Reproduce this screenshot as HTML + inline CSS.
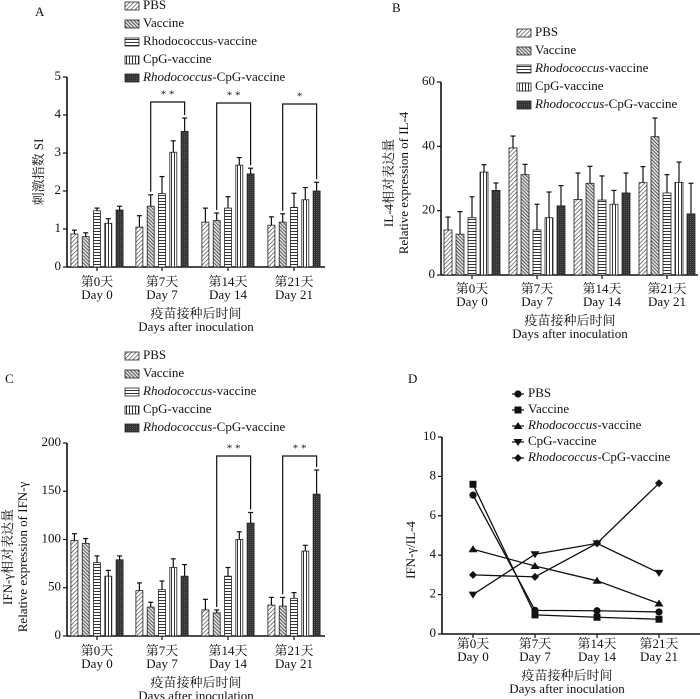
<!DOCTYPE html>
<html><head><meta charset="utf-8"><style>
html,body{margin:0;padding:0;background:#fff}
svg{display:block;font-family:"Liberation Serif","Noto Serif CJK SC","Noto Sans CJK SC",serif}
</style></head><body>
<svg id="fig" width="700" height="699" viewBox="0 0 700 699" xmlns="http://www.w3.org/2000/svg">
<defs>
<pattern id="p0" patternUnits="userSpaceOnUse" width="3" height="3" patternTransform="rotate(45)"><rect width="3" height="3" fill="#fff"/><line x1="0" y1="0" x2="0" y2="3" stroke="#333" stroke-width="1.2"/></pattern>
<pattern id="p1" patternUnits="userSpaceOnUse" width="2.5" height="2.5" patternTransform="rotate(-45)"><rect width="2.5" height="2.5" fill="#ddd"/><line x1="0" y1="0" x2="0" y2="2.5" stroke="#222" stroke-width="1.3"/></pattern>
<pattern id="p2" patternUnits="userSpaceOnUse" width="3" height="3"><rect width="3" height="3" fill="#fff"/><line x1="0" y1="0.5" x2="3" y2="0.5" stroke="#333" stroke-width="1"/></pattern>
<pattern id="p3" patternUnits="userSpaceOnUse" width="3" height="3"><rect width="3" height="3" fill="#fff"/><line x1="0.5" y1="0" x2="0.5" y2="3" stroke="#333" stroke-width="1"/></pattern>
<pattern id="p4" patternUnits="userSpaceOnUse" width="2" height="2"><rect width="2" height="2" fill="#333"/><rect x="0" y="0" width="0.7" height="0.7" fill="#777"/></pattern>
</defs>
</svg>
<script>
const groups = ["Day 0","Day 7","Day 14","Day 21"];
const groupsCn = ["第0天","第7天","第14天","第21天"];
const seriesNames = ["PBS","Vaccine","Rhodococcus-vaccine","CpG-vaccine","Rhodococcus-CpG-vaccine"];
// Panel A
const aTicks = [0,1,2,3,4,5];
const aPBS = [0.87,1.05,1.18,1.1];
const aVac = [0.8,1.6,1.22,1.18];
const aRho = [1.48,1.93,1.55,1.57];
const aCpG = [1.15,3.02,2.68,1.77];
const aRC = [1.5,3.57,2.45,2.0];
const aErrPBS = [0.1,0.3,0.37,0.22];
const aErrVac = [0.1,0.3,0.2,0.22];
const aErrRho = [0.07,0.45,0.3,0.37];
const aErrCpG = [0.12,0.3,0.2,0.32];
const aErrRC = [0.1,0.35,0.15,0.23];
// Panel B
const bTicks = [0,20,40,60];
const bPBS = [14,39.5,23.5,28.7];
const bVac = [12.7,31.2,28.5,43];
const bRho = [17.8,14,23.3,25.5];
const bCpG = [32,17.8,22,28.8];
const bRC = [26.3,21.5,25.5,19];
const bErrPBS = [4,3.7,8.2,5];
const bErrVac = [7,3.2,5.3,5.8];
const bErrRho = [6.5,8,7.5,5.7];
const bErrCpG = [2.3,8,4.3,6.3];
const bErrRC = [2.3,6.3,6.2,9.5];
// Panel C
const cTicks = [0,50,100,150,200];
const cPBS = [99,47,27,32];
const cVac = [96,30,24,31];
const cRho = [76,48,62,39];
const cCpG = [62,71,100,88];
const cRC = [79,62,117,147];
const cErrPBS = [7,8,11,8];
const cErrVac = [5,5,3,9];
const cErrRho = [7,9,9,6];
const cErrCpG = [6,9,8,6];
const cErrRC = [4,12,11,25];
// Panel D
const dTicks = [0,2,4,6,8,10];
const dPBS = [7.05,1.2,1.18,1.12];
const dVac = [7.6,0.97,0.85,0.75];
const dRho = [4.3,3.45,2.7,1.55];
const dCpG = [2.0,4.05,4.6,3.1];
const dRC = [3.0,2.9,4.6,7.65];

const svg = document.getElementById('fig');
const NS = 'http://www.w3.org/2000/svg';
function mk(tag, attrs, parent, text){
  const e = document.createElementNS(NS, tag);
  for (const k in attrs) e.setAttribute(k, attrs[k]);
  if (text !== undefined) e.textContent = text;
  (parent||svg).appendChild(e); return e;
}
function txt(x,y,s,size,anchor,parent,name,italicPrefix){
  const t = mk('text',{x:x,y:y,'font-size':size,'text-anchor':anchor||'start','dominant-baseline':'middle',fill:'#111'},parent);
  
  
  if (italicPrefix){
    mk('tspan',{'font-style':'italic'},t,'Rhodococcus');
    mk('tspan',{},t,s.replace('Rhodococcus',''));
  } else t.textContent = s;
  return t;
}

function axes(p){
  const g = mk('g',{});
  
  
  const y = v => p.y0 - (v - 0) / p.ymax * (p.y0 - p.y1);
  mk('line',{x1:p.x0,y1:p.y1,x2:p.x0,y2:p.y0,stroke:'#111','stroke-width':1.6},g);
  mk('line',{x1:p.x0,y1:p.y0,x2:p.xEnd,y2:p.y0,stroke:'#111','stroke-width':1.6},g);
  p.ticks.forEach(t=>{
    mk('line',{x1:p.x0-4,y1:y(t),x2:p.x0,y2:y(t),stroke:'#111','stroke-width':1.2},g);
    txt(p.x0-6,y(t),String(t),13,'end',g,p.id+'-y-tick-label');
  });
  p.gx.forEach((gx,i)=>{
    mk('line',{x1:gx,y1:p.y0,x2:gx,y2:p.y0+4,stroke:'#111','stroke-width':1.2},g);
    txt(gx,p.lab1,groupsCn[i],13,'middle',g,p.id+'-x-tick-cn');
    txt(gx,p.lab1+13,groups[i],13,'middle',g,p.id+'-x-tick-label');
  });
  txt(p.titleX,p.lab1+32,'疫苗接种后时间',13,'middle',g,p.id+'-x-axis-title-cn');
  txt(p.titleX,p.lab1+45,'Days after inoculation',13,'middle',g,p.id+'-x-axis-title');
  return y;
}

function barPanel(p){
  const y = axes(p);
  const g = mk('g',{});
  
  
  p.series.forEach((vals,si)=>{
    vals.forEach((v,gi)=>{
      const cx = p.gx[gi] + (si-2)*p.sp;
      const r = mk('rect',{x:cx-p.bw/2,y:y(v),width:p.bw,height:p.y0-y(v),fill:'url(#p'+si+')',stroke:'#222','stroke-width':0.8},g);
      
      
      const e = p.errs[si][gi];
      mk('line',{x1:cx,y1:y(v),x2:cx,y2:y(v+e),stroke:'#111','stroke-width':1.2},g);
      mk('line',{x1:cx-2.5,y1:y(v+e),x2:cx+2.5,y2:y(v+e),stroke:'#111','stroke-width':1.2},g);
    });
  });
  (p.brackets||[]).forEach(b=>{
    const gi=b[0], a=b[1], c=b[2];
    const xa = p.gx[gi]+(a-2)*p.sp, xc = p.gx[gi]+(c-2)*p.sp;
    const ya = y(p.series[a][gi]+p.errs[a][gi])-3, yc = y(p.series[c][gi]+p.errs[c][gi])-3;
    const bl = mk('polyline',{points:`${xa},${ya} ${xa},${b[3]} ${xc},${b[3]} ${xc},${yc}`,fill:'none',stroke:'#111','stroke-width':1.2},g);
    
    
    txt((xa+xc)/2,b[3]-7,b[4],11,'middle',g,p.id+'-significance-stars');
  });
  // legend
  const lg = mk('g',{});
  
  
  seriesNames.forEach((n,i)=>{
    const ly = p.legY + i*18;
    mk('rect',{x:p.legX,y:ly-4,width:14,height:8,fill:'url(#p'+i+')',stroke:'#222','stroke-width':0.8},lg);
    txt(p.legX+18,ly,n,13,'start',lg,p.id+'-legend-entry', p.italic && n.startsWith('Rhodococcus') || (n==='Rhodococcus-CpG-vaccine'));
  });
}

// Panel A
txt(35,13,'A',13,'start',svg,'panel-a-label');
barPanel({id:'a',x0:67,xEnd:325,y0:267,y1:77,ymax:5,ticks:aTicks,gx:[97,162,228,294],sp:11.3,bw:7,
  series:[aPBS,aVac,aRho,aCpG,aRC],errs:[aErrPBS,aErrVac,aErrRho,aErrCpG,aErrRC],
  lab1:283,titleX:196,legX:125,legY:6,italic:false,
  brackets:[[1,1,4,102,'* *'],[2,1,4,103,'* *'],[3,1,4,104,'*']]});
const ya = txt(40,172,'刺激指数 SI',13,'middle',svg,'y-axis-title-a');
ya.setAttribute('transform','rotate(-90 40 172)');

// Panel B
txt(392,9,'B',13,'start',svg,'panel-b-label');
barPanel({id:'b',x0:441,xEnd:698,y0:275,y1:82,ymax:60,ticks:bTicks,gx:[472,537,602,667],sp:12,bw:8,
  series:[bPBS,bVac,bRho,bCpG,bRC],errs:[bErrPBS,bErrVac,bErrRho,bErrCpG,bErrRC],
  lab1:290,titleX:570,legX:517,legY:33,italic:true});
const yb1 = txt(390,183,'IL-4相对表达量',13,'middle',svg,'y-axis-title-b-cn'); yb1.setAttribute('transform','rotate(-90 390 183)');
const yb2 = txt(405,183,'Relative expression of IL-4',13,'middle',svg,'y-axis-title-b'); yb2.setAttribute('transform','rotate(-90 405 183)');

// Panel C
txt(5,380,'C',13,'start',svg,'panel-c-label');
barPanel({id:'c',x0:67,xEnd:325,y0:636,y1:443,ymax:200,ticks:cTicks,gx:[97,162,228,294],sp:11.3,bw:7,
  series:[cPBS,cVac,cRho,cCpG,cRC],errs:[cErrPBS,cErrVac,cErrRho,cErrCpG,cErrRC],
  lab1:652,titleX:196,legX:125,legY:356,italic:true,
  brackets:[[2,1,4,456,'* *'],[3,1,4,456,'* *']]});
const yc1 = txt(9,557,'IFN-γ相对表达量',13,'middle',svg,'y-axis-title-c-cn'); yc1.setAttribute('transform','rotate(-90 9 557)');
const yc2 = txt(24,557,'Relative expression of IFN-γ',13,'middle',svg,'y-axis-title-c'); yc2.setAttribute('transform','rotate(-90 24 557)');

// Panel D
txt(408,380,'D',13,'start',svg,'panel-d-label');
(function(){
  const p={id:'d',x0:442,xEnd:700,y0:634,y1:437,ymax:10,ticks:dTicks,gx:[473,535,597,659],lab1:645,titleX:567};
  const y = axes(p);
  const series=[dPBS,dVac,dRho,dCpG,dRC];
  function marker(t,x,yy,g){
    let m;
    if(t===0) m=mk('circle',{cx:x,cy:yy,r:3.6,fill:'#111'},g);
    else if(t===1) m=mk('rect',{x:x-3.5,y:yy-3.5,width:7,height:7,fill:'#111'},g);
    else if(t===2) m=mk('polygon',{points:`${x},${yy-4} ${x+4.5},${yy+3} ${x-4.5},${yy+3}`,fill:'#111'},g);
    else if(t===3) m=mk('polygon',{points:`${x},${yy+4} ${x+4.5},${yy-3} ${x-4.5},${yy-3}`,fill:'#111'},g);
    else m=mk('polygon',{points:`${x},${yy-4} ${x+4},${yy} ${x},${yy+4} ${x-4},${yy}`,fill:'#111'},g);
    
    
  }
  series.forEach((vals,si)=>{
    const g=mk('g',{});
    
    
    mk('polyline',{points:vals.map((v,i)=>p.gx[i]+','+y(v)).join(' '),fill:'none',stroke:'#111','stroke-width':1.3},g);
    vals.forEach((v,i)=>marker(si,p.gx[i],y(v),g));
  });
  const lg=mk('g',{});
  
  
  seriesNames.forEach((n,i)=>{
    const ly=394+i*16;
    mk('line',{x1:512,y1:ly,x2:524,y2:ly,stroke:'#111','stroke-width':1.2},lg);
    marker(i,518,ly,lg);
    txt(528,ly,n,13,'start',lg,'d-legend-entry',n.startsWith('Rhodococcus'));
  });
  const yd = txt(412,550,'IFN-γ/IL-4',13,'middle',svg,'y-axis-title-d'); yd.setAttribute('transform','rotate(-90 412 550)');
})();
</script>
</body></html>
